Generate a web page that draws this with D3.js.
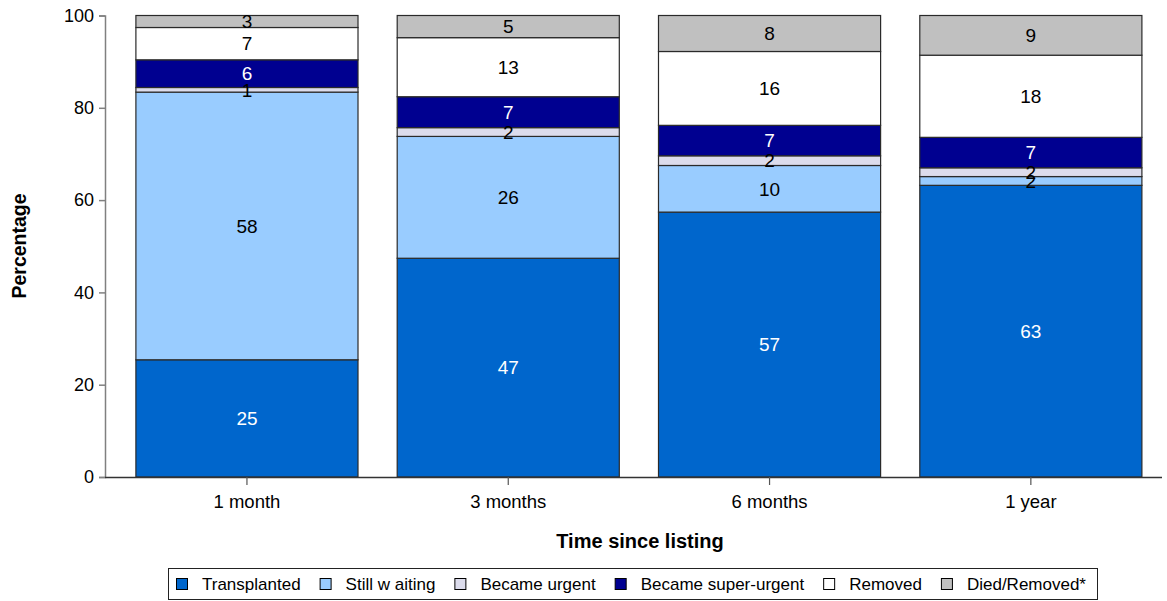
<!DOCTYPE html>
<html>
<head>
<meta charset="utf-8">
<script src="https://cdn.jsdelivr.net/npm/d3@7"></script>
<style>
  html, body { margin: 0; padding: 0; background: #fff; }
  svg { display: block; font-family: "Liberation Sans", Arial, sans-serif; }
</style>
</head>
<body>
<svg id="chart" width="1167" height="601"></svg>
<script>
// Outcome after listing, percentages per time point
const categories = ["1 month", "3 months", "6 months", "1 year"];
const seriesNames = ["Transplanted", "Still w aiting", "Became urgent", "Became super-urgent", "Removed", "Died/Removed*"];
const transplanted   = [25.4, 47.4, 57.4, 63.2];
const stillWaiting   = [58.0, 26.4, 10.1, 1.9];
const becameUrgent   = [1.0, 1.9, 2.1, 1.9];
const superUrgent    = [6.0, 6.7, 6.6, 6.6];
const removed        = [7.0, 12.8, 16.0, 17.8];
const diedRemoved    = [2.6, 4.8, 7.8, 8.6];
const yTicks = [0, 20, 40, 60, 80, 100];

const seriesValues = [transplanted, stillWaiting, becameUrgent, superUrgent, removed, diedRemoved];
const colors = ["#0066cc", "#99ccff", "#dcdcec", "#000090", "#ffffff", "#c0c0c0"];
const labelColors = ["#ffffff", "#000000", "#000000", "#ffffff", "#000000", "#000000"];

const rows = categories.map((c, i) => {
  const r = { category: c };
  seriesNames.forEach((s, k) => { r[s] = seriesValues[k][i]; });
  return r;
});
const stacked = d3.stack().keys(seriesNames)(rows);

const svg = d3.select("#chart");

const x = d3.scaleBand()
  .domain(categories)
  .range([116.3, 1161.5])
  .paddingInner(0.15)
  .paddingOuter(0.075);
const y = d3.scaleLinear().domain([0, 100]).range([477, 15.5]);

// bars
const layer = svg.append("g");
stacked.forEach((s, k) => {
  layer.selectAll(null)
    .data(s)
    .join("rect")
    .attr("x", d => x(d.data.category))
    .attr("width", x.bandwidth())
    .attr("y", d => y(d[1]))
    .attr("height", d => y(d[0]) - y(d[1]))
    .attr("fill", colors[k])
    .attr("stroke", "#2a2a2a")
    .attr("stroke-width", 1.2);
});

// segment value labels
stacked.forEach((s, k) => {
  layer.selectAll(null)
    .data(s)
    .join("text")
    .attr("x", d => x(d.data.category) + x.bandwidth() / 2)
    .attr("y", d => y((d[0] + d[1]) / 2))
    .attr("dy", "0.36em")
    .attr("text-anchor", "middle")
    .attr("font-size", 19)
    .attr("fill", labelColors[k])
    .text(d => d3.format(".0f")(d[1] - d[0]));
});

// y axis
const yAxis = svg.append("g")
  .attr("transform", "translate(105,0)")
  .call(d3.axisLeft(y).tickValues(yTicks).tickSize(6).tickPadding(5));
yAxis.select(".domain").attr("stroke", "#808080").attr("stroke-width", 1.5);
yAxis.selectAll(".tick line").attr("stroke", "#808080").attr("stroke-width", 1.5);
yAxis.selectAll("text").attr("font-size", 18).attr("fill", "#000")
  .attr("font-family", "Liberation Sans, Arial, sans-serif");

// x axis
const xAxis = svg.append("g")
  .attr("transform", "translate(0,477)")
  .call(d3.axisBottom(x).tickSize(8).tickSizeOuter(0).tickPadding(10));
xAxis.select(".domain").attr("d", "M105,0.5H1162").attr("stroke", "#333").attr("stroke-width", 1.5);
xAxis.selectAll(".tick line").attr("stroke", "#555").attr("stroke-width", 1.2);
xAxis.selectAll("text").attr("font-size", 18.5).attr("fill", "#000")
  .attr("font-family", "Liberation Sans, Arial, sans-serif");

// axis titles
svg.append("text")
  .attr("transform", "translate(26,246) rotate(-90)")
  .attr("text-anchor", "middle")
  .attr("font-size", 19.5)
  .attr("font-weight", "bold")
  .text("Percentage");
svg.append("text")
  .attr("x", 640)
  .attr("y", 548)
  .attr("text-anchor", "middle")
  .attr("font-size", 20)
  .attr("font-weight", "bold")
  .text("Time since listing");

// legend: swatch + label, laid out left to right
const legend = svg.append("g");
legend.append("rect")
  .attr("x", 168.5).attr("y", 568.5)
  .attr("width", 929).attr("height", 31)
  .attr("fill", "#fff").attr("stroke", "#222").attr("stroke-width", 1);
let cursor = 176;
seriesNames.forEach((name, k) => {
  legend.append("rect")
    .attr("x", cursor + 0.5).attr("y", 578.5)
    .attr("width", 11).attr("height", 11)
    .attr("fill", colors[k]).attr("stroke", "#000").attr("stroke-width", 1);
  const t = legend.append("text")
    .attr("x", cursor + 26)
    .attr("y", 590)
    .attr("font-size", 17)
    .text(name);
  cursor += 26 + t.node().getComputedTextLength() + 19;
});
</script>
</body>
</html>
